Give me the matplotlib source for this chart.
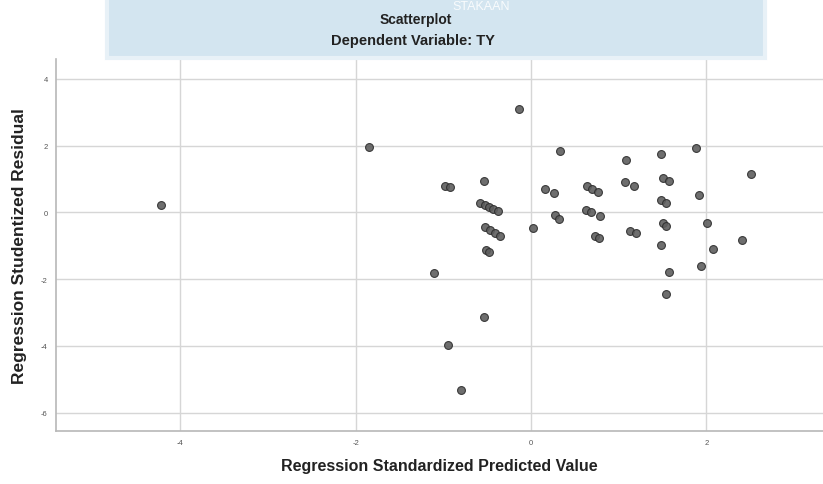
import matplotlib
matplotlib.use("Agg")
import matplotlib.pyplot as plt
from matplotlib.patches import Rectangle

plt.rcParams['font.family'] = ['Liberation Sans', 'DejaVu Sans']
plt.rcParams['axes.unicode_minus'] = False

# standardized predicted value vs studentized residual
pred = [-4.22, -1.85, -0.14, 0.33, -0.98, -0.93, -0.54,
        -0.58, -0.53, -0.48, -0.43, -0.38,
        0.02, -0.53, -0.47, -0.41, -0.35, -0.52, -0.48,
        -1.11, -0.54, -0.95, -0.80,
        0.16, 0.26, 0.27, 0.32,
        0.64, 0.70, 0.76, 0.63, 0.68, 0.79, 0.73, 0.77,
        1.08, 1.07, 1.17, 1.13, 1.20,
        1.48, 1.51, 1.57, 1.48, 1.54, 1.51, 1.54, 1.48, 1.57, 1.54,
        1.88, 1.91, 2.01, 2.07, 1.94, 2.41, 2.51]
resid = [0.22, 1.96, 3.11, 1.84, 0.80, 0.76, 0.93,
         0.28, 0.22, 0.16, 0.10, 0.04,
         -0.47, -0.45, -0.53, -0.62, -0.70, -1.13, -1.20,
         -1.80, -3.13, -3.97, -5.32,
         0.70, 0.57, -0.09, -0.19,
         0.78, 0.69, 0.60, 0.08, 0.01, -0.10, -0.70, -0.76,
         1.58, 0.90, 0.78, -0.55, -0.63,
         1.76, 1.03, 0.95, 0.38, 0.29, -0.32, -0.40, -0.99, -1.79, -2.43,
         1.93, 0.51, -0.31, -1.10, -1.60, -0.84, 1.14]

xticks = [-4, -2, 0, 2]
yticks = [-6, -4, -2, 0, 2, 4]

fig = plt.figure(figsize=(8.23, 4.85), dpi=100)

# faint library watermark behind the title
fig.patches.append(Rectangle((0.13, 0.878), 0.80, 0.13, transform=fig.transFigure,
                             facecolor='#d3e5f0', edgecolor='#e8f1f7', lw=3, zorder=0))
fig.text(0.585, 0.997, 'STAKAAN', ha='center', va='top', fontsize=9,
         color='white', alpha=0.85, zorder=1)

ax = fig.add_axes([0.068, 0.109, 0.932, 0.767])
ax.scatter(pred, resid, s=32, facecolor='#5e5e5e', edgecolor='#2e2e2e',
           linewidth=0.8, alpha=0.9, zorder=3)

ax.set_xlim(-5.42, 3.33)
ax.set_ylim(-6.55, 4.59)
ax.set_xticks(xticks)
ax.set_yticks(yticks)
ax.grid(True, color='#d6d6d6', linewidth=1.0)
ax.set_axisbelow(True)
ax.tick_params(length=0, labelsize=5.5, labelcolor='#555555', pad=6)
for side in ['top', 'right']:
    ax.spines[side].set_visible(False)
for side in ['left', 'bottom']:
    ax.spines[side].set_color('#b8b8b8')
    ax.spines[side].set_linewidth(1.2)

ax.set_xlabel('Regression Standardized Predicted Value', fontsize=11.5,
              fontweight='bold', color='#222222', labelpad=8)
ax.set_ylabel('Regression Studentized Residual', fontsize=12.5,
              fontweight='bold', color='#222222', labelpad=10)

fig.text(0.505, 0.958, 'Scatterplot', ha='center', va='center', fontsize=10,
         fontweight='bold', color='#222222', zorder=2)
fig.text(0.502, 0.915, 'Dependent Variable: TY', ha='center', va='center',
         fontsize=10.5, fontweight='bold', color='#222222', zorder=2)

fig.savefig('out.png', dpi=100)
